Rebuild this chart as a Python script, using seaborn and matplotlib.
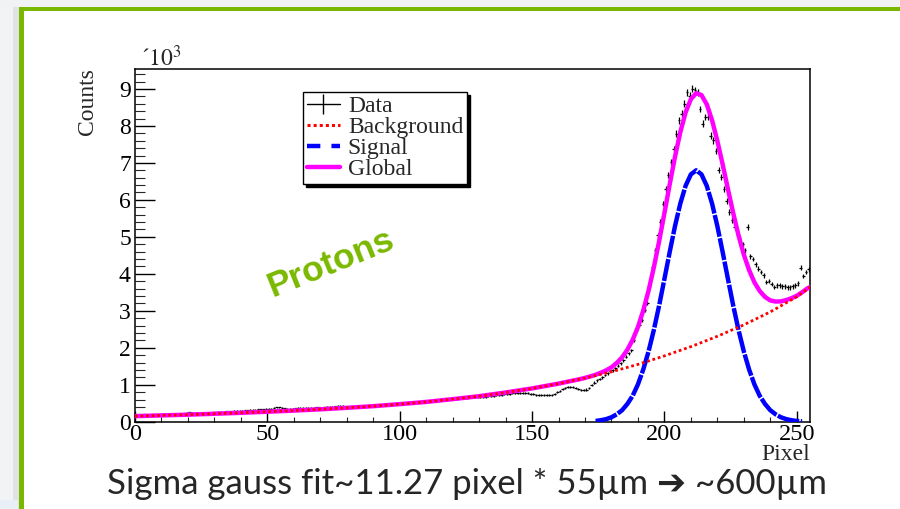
import numpy as np
import matplotlib
matplotlib.use("Agg")
import matplotlib.pyplot as plt
from matplotlib.lines import Line2D
from matplotlib.patches import Rectangle
from matplotlib.ticker import MultipleLocator
import seaborn as sns

# counts per pixel bin (bin i centred at i + 0.5)
counts = [
    185, 190, 180, 195, 190, 185, 200, 195, 190, 200,
    205, 200, 210, 205, 215, 210, 220, 215, 225, 235,
    250, 245, 240, 235, 240, 230, 235, 240, 245, 250,
    255, 260, 265, 270, 280, 285, 280, 290, 295, 300,
    300, 305, 310, 315, 320, 325, 330, 335, 330, 340,
    345, 355, 370, 390, 385, 375, 360, 355, 350, 355,
    360, 365, 370, 375, 370, 365, 375, 380, 390, 385,
    380, 385, 395, 400, 410, 415, 420, 430, 425, 410,
    395, 400, 400, 405, 410, 410, 415, 420, 425, 425,
    430, 435, 440, 445, 450, 455, 460, 465, 470, 475,
    480, 490, 495, 500, 510, 515, 520, 530, 535, 545,
    550, 555, 565, 570, 580, 590, 595, 600, 610, 615,
    620, 625, 630, 640, 645, 650, 655, 660, 665, 665,
    670, 675, 680, 690, 700, 705, 710, 720, 730, 740,
    750, 760, 765, 770, 775, 780, 780, 775, 770, 760,
    745, 730, 720, 715, 710, 715, 720, 730, 760, 800,
    840, 880, 910, 935, 940, 930, 910, 880, 860, 855,
    870, 920, 990, 1060, 1120, 1150, 1200, 1260, 1310, 1370,
    1390, 1440, 1510, 1580, 1660, 1760, 1850, 1935, 2200, 2480,
    2620, 2750, 3020, 3200, 3700, 4190, 4640, 5040, 5400, 5900,
    6300, 6660, 7020, 7380, 7790, 8150, 8330, 8600, 8910, 8820,
    9000, 8960, 8910, 8460, 8060, 8240, 8240, 7740, 7610, 7320,
    6800, 6620, 6300, 5970, 5670, 5450, 5270, 5100, 4950, 4800,
    4640, 5270, 4470, 4400, 4260, 4140, 4050, 3960, 3780, 3800,
    3720, 3650, 3690, 3690, 3660, 3660, 3630, 3630, 3660, 3690,
    3740, 4170, 3940, 4050, 4120,
]

# fitted curves
bg_x = [0, 10, 20, 30, 40, 50, 60, 70, 80, 90, 100, 110, 120, 130, 140,
        150, 160, 170, 180, 190, 200, 210, 220, 230, 240, 250, 255]
bg_y = [150, 170, 190, 215, 240, 270, 300, 335, 375, 420, 475, 535, 610, 690, 790,
        900, 1030, 1180, 1350, 1550, 1780, 2030, 2310, 2620, 2970, 3380, 3640]

sig_x = list(range(174, 254, 2))
sig_y = [20, 40, 70, 120, 200, 310, 480, 700, 1010, 1410,
         1900, 2480, 3140, 3860, 4590, 5290, 5900, 6380, 6690, 6800,
         6690, 6380, 5900, 5290, 4590, 3860, 3140, 2480, 1900, 1410,
         1010, 700, 480, 310, 200, 120, 70, 40, 20, 10]

glob_x = [0, 10, 20, 30, 40, 50, 60, 70, 80, 90, 100, 110, 120, 130, 140, 150, 160,
          164, 166, 168, 170, 172, 174, 176, 178, 180, 182, 184, 186, 188, 190,
          192, 194, 196, 198, 200, 202, 204, 206, 208, 210, 212, 214, 216, 218,
          220, 222, 224, 226, 228, 230, 232, 234, 236, 238, 240, 242, 244, 246,
          248, 250, 252, 254, 255]
glob_y = [150, 170, 190, 215, 240, 270, 300, 335, 375, 420, 475, 535, 610, 690, 790, 900, 1030,
          1090, 1120, 1150, 1185, 1225, 1270, 1325, 1390, 1470, 1590, 1740, 1945, 2215, 2560,
          3005, 3540, 4170, 4880, 5640, 6420, 7165, 7830, 8365, 8725, 8885, 8835, 8585, 8155,
          7595, 6960, 6290, 5640, 5040, 4520, 4100, 3770, 3535, 3375, 3280, 3250, 3255, 3290,
          3340, 3405, 3500, 3605, 3640]

x_ticks = [0, 50, 100, 150, 200, 250]
y_ticks = [0, 1000, 2000, 3000, 4000, 5000, 6000, 7000, 8000, 9000]
y_tick_labels = ["0", "1", "2", "3", "4", "5", "6", "7", "8", "9"]

sns.set_theme(style="white")
plt.rcParams["font.family"] = ["Liberation Serif", "DejaVu Serif"]
plt.rcParams["mathtext.fontset"] = "stix"

W, H = 900, 509
fig = plt.figure(figsize=(9, 5.09), dpi=100)
fig.patch.set_facecolor("white")


def box(x0, y0, x1, y1, color):
    # rectangle given in pixel coords (origin top-left)
    fig.add_artist(Rectangle((x0 / W, 1 - y1 / H), (x1 - x0) / W, (y1 - y0) / H,
                             transform=fig.transFigure, color=color, lw=0, zorder=0))


# slide frame
box(0, 0, 19, H, "#f1f3f4")
box(13, 0, 19, H, "#dfe3e6")
box(0, 0, W, 7, "#f0f2f3")
box(0, 500, 18, H, "#e8eff6")
box(19, 7, W, 11, "#7ab800")
box(19, 7, 24, H, "#7ab800")

ax = fig.add_axes([135 / W, 1 - 421.7 / H, 675 / W, (421.7 - 69) / H])
ax.set_facecolor("white")

centres = np.arange(len(counts)) + 0.5
ax.errorbar(centres, counts, xerr=0.5, yerr=np.sqrt(counts), fmt="none",
            ecolor="black", elinewidth=0.9, zorder=2)

sns.lineplot(x=glob_x, y=glob_y, ax=ax, color="#ff00ff", lw=3.2, zorder=3)
sns.lineplot(x=sig_x, y=sig_y, ax=ax, color="#0000ff", lw=3.2, zorder=4)
ax.lines[-1].set_dashes((5, 0.35))
sns.lineplot(x=bg_x, y=bg_y, ax=ax, color="#ff0000", lw=2.0, zorder=5)
ax.lines[-1].set_dashes((1, 1))

ax.set_xlim(0, 255)
ax.set_ylim(0, 9540)
ax.set_xticks(x_ticks)
ax.set_yticks(y_ticks)
ax.set_yticklabels(y_tick_labels)
ax.xaxis.set_minor_locator(MultipleLocator(10))
ax.yaxis.set_minor_locator(MultipleLocator(200))
ax.tick_params(axis="y", which="major", direction="in", length=14.4, width=1,
               labelsize=17, pad=3, colors="black", left=True)
ax.tick_params(axis="y", which="minor", direction="in", length=7.2, width=0.8, left=True)
ax.tick_params(axis="x", which="major", direction="in", length=7.6, width=1,
               labelsize=17.5, pad=2, colors="black", bottom=True)
ax.tick_params(axis="x", which="minor", direction="in", length=3.8, width=0.8, bottom=True)
for s in ax.spines.values():
    s.set_color("black")
    s.set_linewidth(1.1)
ax.set_xlabel("")
ax.set_ylabel("")

fig.text(87 / W, 1 - 68 / H, "Counts", rotation=90, ha="center", va="top", fontsize=17)
fig.text(810 / W, 1 - 444 / H, "Pixel", ha="right", va="top", fontsize=17)
fig.text(141 / W, 1 - 66 / H, "\u00b4$10^{3}$", ha="left", va="baseline", fontsize=17)

fig.text(331 / W, 1 - 263 / H, "Protons", rotation=22, ha="center", va="center",
         fontsize=25.5, fontweight="bold", color="#7ab800", family="Liberation Sans")

fig.text(467 / W, 1 - 484 / H, "Sigma gauss fit~11.27 pixel * 55\u00b5m \u2794 ~600\u00b5m",
         ha="center", va="center", fontsize=25, family=["Lato", "DejaVu Sans"])

handles = [
    Line2D([], [], color="black", lw=1, marker="|", markersize=14, markeredgewidth=1),
    Line2D([], [], color="#ff0000", lw=2.2, dashes=(1, 1)),
    Line2D([], [], color="#0000ff", lw=3.2, dashes=(3, 2.5)),
    Line2D([], [], color="#ff00ff", lw=3.2),
]
labels = ["Data", "Background", "Signal", "Global"]
leg = ax.legend(handles, labels, loc="upper left", bbox_to_anchor=(303 / W, 1 - 92 / H),
                bbox_transform=fig.transFigure, borderaxespad=0, fontsize=17,
                frameon=True, fancybox=False, shadow={"color": "black", "alpha": 1},
                labelspacing=-0.02, handlelength=1.4, handletextpad=0.35,
                borderpad=0.15, framealpha=1, edgecolor="black")
leg.get_frame().set_linewidth(1.0)

fig.savefig("out.png", dpi=100, facecolor="white")
